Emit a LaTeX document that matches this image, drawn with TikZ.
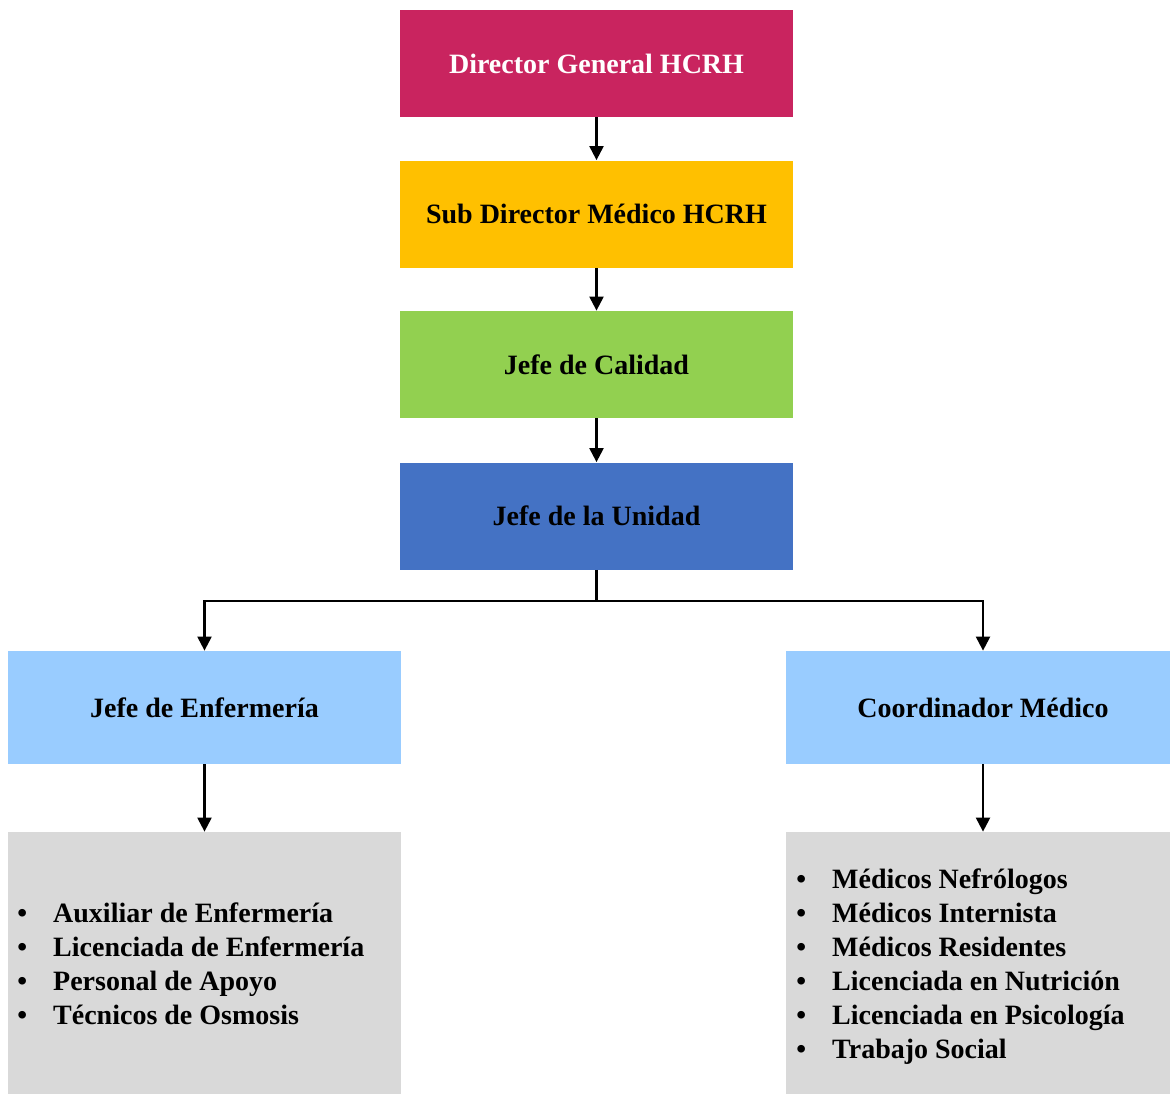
\documentclass[tikz,border=0pt]{standalone}
\usepackage{fontspec}
\setmainfont{Liberation Serif}
\usetikzlibrary{arrows.meta}
\definecolor{cdir}{HTML}{C9245F}
\definecolor{csub}{HTML}{FFC000}
\definecolor{ccal}{HTML}{92D050}
\definecolor{cuni}{HTML}{4472C4}
\definecolor{cjef}{HTML}{99CCFF}
\definecolor{cgry}{HTML}{D9D9D9}
\newcommand{\lstrow}[1]{\textbullet & #1\\}
\begin{document}
\begin{tikzpicture}[x=0.5pt,y=-0.5pt,
  box/.style={draw=none, minimum width=196.5pt, minimum height=53.5pt, inner sep=0pt,
    font=\bfseries\fontsize{14}{17}\selectfont},
  listtext/.style={inner sep=0pt, anchor=base west, font=\bfseries\fontsize{14}{17}\selectfont},
  arr/.style={-{Triangle[width=7pt,length=7pt]}, line width=1.1pt}]
\useasboundingbox (0,0) rectangle (1170,1093);
\node[box, fill=cdir, text=white] (dir) at (596.5,63.5) {Director General HCRH};
\node[box, fill=csub] (sub) at (596.5,214) {Sub Director Médico HCRH};
\node[box, fill=ccal] (cal) at (596.5,364.5) {Jefe de Calidad};
\node[box, fill=cuni] (uni) at (596.5,516) {Jefe de la Unidad};
\node[box, fill=cjef, minimum height=56.5pt] (enf) at (204.5,707.5) {Jefe de Enfermería};
\node[box, fill=cjef, minimum height=56.5pt, minimum width=197pt] (coo) at (983,707.5) {Coordinador Médico};
\node[box, fill=cgry, minimum height=135pt] (gl) at (204.5,967) {};
\node[box, fill=cgry, minimum height=135pt, minimum width=197pt] (gr) at (983,967) {};
\node[listtext] (ll) at (17,922) {\begin{tabular}[t]{@{}l@{\hspace{13pt}}l@{}}
\lstrow{Auxiliar de Enfermería}
\lstrow{Licenciada de Enfermería}
\lstrow{Personal de Apoyo}
\lstrow{Técnicos de Osmosis}
\end{tabular}};
\node[listtext] (rl) at (796,888) {\begin{tabular}[t]{@{}l@{\hspace{13pt}}l@{}}
\lstrow{Médicos Nefrólogos}
\lstrow{Médicos Internista}
\lstrow{Médicos Residentes}
\lstrow{Licenciada en Nutrición}
\lstrow{Licenciada en Psicología}
\lstrow{Trabajo Social}
\end{tabular}};
\coordinate (j) at (596.5,601);
\draw[arr] (dir.south) -- (sub.north);
\draw[arr] (sub.south) -- (cal.north);
\draw[arr] (cal.south) -- (uni.north);
\draw[arr] (uni.south) -- (j) -| (enf.north);
\draw[arr] (j) -| (coo.north);
\draw[arr] (enf.south) -- (gl.north);
\draw[arr] (coo.south) -- (gr.north);
\end{tikzpicture}
\end{document}
